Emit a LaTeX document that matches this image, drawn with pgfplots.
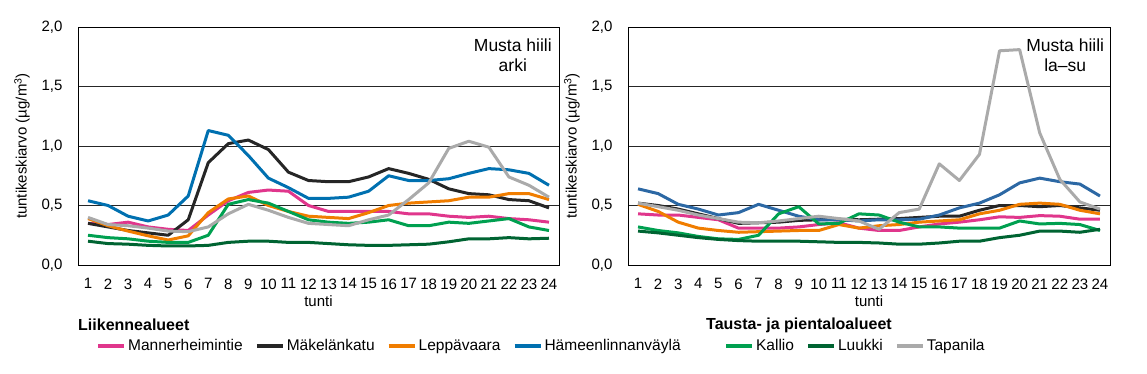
\documentclass[border=0pt]{standalone}
\usepackage{fontspec}
\setmainfont{Liberation Sans}
\usepackage{pgfplots}
\usepackage{pgfplotstable}
\pgfplotsset{compat=1.18}

\definecolor{cman}{RGB}{224,54,140}
\definecolor{cmak}{RGB}{38,38,38}
\definecolor{clep}{RGB}{240,125,0}
\definecolor{cham}{RGB}{0,112,176}
\definecolor{chamR}{RGB}{44,104,164}
\definecolor{ckal}{RGB}{0,160,80}
\definecolor{cluu}{RGB}{0,100,50}
\definecolor{ctap}{RGB}{170,170,170}

\pgfplotstableread{
h man mak lep ham kal luu tap
1 0.35 0.35 0.39 0.54 0.25 0.20 0.40
2 0.34 0.32 0.33 0.50 0.23 0.18 0.34
3 0.36 0.29 0.285 0.41 0.22 0.175 0.33
4 0.32 0.27 0.245 0.37 0.20 0.165 0.31
5 0.30 0.25 0.21 0.42 0.19 0.16 0.285
6 0.29 0.38 0.245 0.58 0.19 0.16 0.28
7 0.42 0.86 0.44 1.13 0.25 0.165 0.32
8 0.54 1.02 0.555 1.09 0.51 0.19 0.43
9 0.61 1.05 0.58 0.92 0.55 0.20 0.51
10 0.63 0.97 0.50 0.73 0.52 0.20 0.46
11 0.62 0.78 0.45 0.65 0.45 0.19 0.40
12 0.50 0.71 0.41 0.56 0.38 0.19 0.35
13 0.45 0.70 0.40 0.56 0.36 0.18 0.34
14 0.45 0.70 0.39 0.57 0.35 0.17 0.33
15 0.45 0.74 0.44 0.62 0.36 0.165 0.38
16 0.45 0.81 0.50 0.75 0.38 0.165 0.42
17 0.43 0.77 0.52 0.71 0.33 0.17 0.55
18 0.43 0.72 0.53 0.71 0.33 0.175 0.69
19 0.41 0.64 0.54 0.725 0.36 0.195 0.98
20 0.40 0.60 0.57 0.77 0.35 0.22 1.04
21 0.41 0.59 0.57 0.81 0.37 0.22 0.99
22 0.39 0.55 0.60 0.80 0.39 0.23 0.74
23 0.38 0.54 0.60 0.77 0.32 0.22 0.67
24 0.36 0.48 0.55 0.67 0.29 0.225 0.57
}\arki

\pgfplotstableread{
h man mak lep ham kal luu tap
1 0.43 0.52 0.51 0.64 0.32 0.285 0.52
2 0.42 0.50 0.45 0.60 0.29 0.27 0.49
3 0.42 0.47 0.36 0.51 0.27 0.25 0.46
4 0.40 0.43 0.31 0.47 0.24 0.23 0.42
5 0.38 0.39 0.29 0.42 0.22 0.215 0.39
6 0.31 0.35 0.275 0.44 0.215 0.205 0.36
7 0.31 0.355 0.28 0.51 0.25 0.20 0.355
8 0.31 0.36 0.285 0.46 0.43 0.20 0.37
9 0.32 0.375 0.29 0.41 0.49 0.20 0.39
10 0.34 0.38 0.29 0.38 0.345 0.195 0.41
11 0.355 0.385 0.34 0.38 0.35 0.19 0.39
12 0.31 0.38 0.31 0.37 0.43 0.19 0.37
13 0.29 0.385 0.33 0.38 0.42 0.185 0.30
14 0.29 0.39 0.34 0.38 0.36 0.175 0.44
15 0.32 0.40 0.36 0.385 0.32 0.175 0.47
16 0.345 0.41 0.37 0.42 0.32 0.185 0.85
17 0.36 0.41 0.38 0.48 0.31 0.20 0.71
18 0.38 0.46 0.43 0.52 0.31 0.20 0.93
19 0.405 0.50 0.46 0.59 0.31 0.23 1.80
20 0.40 0.50 0.51 0.69 0.37 0.25 1.81
21 0.415 0.49 0.52 0.73 0.345 0.285 1.11
22 0.41 0.50 0.51 0.70 0.35 0.285 0.72
23 0.385 0.48 0.46 0.68 0.34 0.275 0.53
24 0.385 0.46 0.43 0.58 0.29 0.30 0.47
}\lasu

\newcommand{\fs}{\fontsize{15}{18}\selectfont}
\newcommand{\fl}{\fontsize{15.5}{18}\selectfont}
\newcommand{\fb}{\fontsize{17.5}{20.5}\selectfont}
\newcommand{\ft}{\fontsize{16}{19}\selectfont\bfseries}

\pgfplotsset{
  common/.style={
    scale only axis, height=238pt,
    xmin=0.5, xmax=24.5, ymin=0, ymax=2,
    xtick={1,...,24}, ytick={0,0.5,1,1.5,2},
    ymajorgrids, grid style={black!85, line width=0.8pt},
    axis line style={black, line width=0.9pt},
    major tick length=0pt,
    tick label style={font=\fs},
    /pgf/number format/assume math mode=true,
    yticklabel style={/pgf/number format/.cd, fixed, fixed zerofill, precision=1, use comma, /tikz/.cd, xshift=-12pt},
    xticklabel style={yshift=-10pt, inner xsep=0pt},
    xlabel={tunti}, xlabel style={font=\fs, at={(axis description cs:0.5,-0.126)}, anchor=north, inner sep=0pt},
    ylabel={tuntikeskiarvo (µg/m\textsuperscript{3})},
    ylabel style={font=\fs, at={(axis description cs:-0.1164,0.5)}, anchor=center, rotate=0},
    every axis plot/.append style={line width=3pt, no markers, line join=round},
    legend style={draw=none, fill=none, font=\fl, inner sep=0pt, anchor=west,
      /tikz/every even column/.append style={column sep=10pt}},
    legend cell align=left,
    legend columns=-1,
    legend image code/.code={\draw[#1, line width=4pt] (0pt,0pt) -- (26pt,0pt);},
  }
}

\begin{document}
\begin{tikzpicture}
\useasboundingbox (0pt,0pt) rectangle (1147pt,373pt);

\begin{axis}[common, width=481pt, at={(78pt,108pt)}, anchor=south west,
  legend style={at={(axis description cs:0.0374,-0.340)}}]
\addplot[cman] table[x=h,y=man] {\arki}; \addlegendentry{Mannerheimintie}
\addplot[cmak] table[x=h,y=mak] {\arki}; \addlegendentry{Mäkelänkatu}
\addplot[clep] table[x=h,y=lep] {\arki}; \addlegendentry{Leppävaara}
\addplot[cham] table[x=h,y=ham] {\arki}; \addlegendentry{Hämeenlinnanväylä}
\addplot[ckal, forget plot] table[x=h,y=kal] {\arki};
\addplot[cluu, forget plot] table[x=h,y=luu] {\arki};
\addplot[ctap, forget plot] table[x=h,y=tap] {\arki};
\node[font=\fb, align=center] at (rel axis cs:0.904,0.882) {Musta hiili\\arki};
\end{axis}

\begin{axis}[common, width=482pt, at={(628pt,108pt)}, anchor=south west,
  legend style={at={(axis description cs:0.199,-0.340)}}]
\addplot[cman, forget plot] table[x=h,y=man] {\lasu};
\addplot[cmak, forget plot] table[x=h,y=mak] {\lasu};
\addplot[clep, forget plot] table[x=h,y=lep] {\lasu};
\addplot[chamR, forget plot] table[x=h,y=ham] {\lasu};
\addplot[ckal] table[x=h,y=kal] {\lasu}; \addlegendentry{Kallio}
\addplot[cluu] table[x=h,y=luu] {\lasu}; \addlegendentry{Luukki}
\addplot[ctap] table[x=h,y=tap] {\lasu}; \addlegendentry{Tapanila}
\node[font=\fb, align=center] at (rel axis cs:0.907,0.882) {Musta hiili\\la--su};
\end{axis}

\node[font=\ft, anchor=west, inner sep=0pt] at (78pt,48pt) {Liikennealueet};
\node[font=\ft, anchor=west, inner sep=0pt] at (706pt,48pt) {Tausta- ja pientaloalueet};
\end{tikzpicture}
\end{document}
